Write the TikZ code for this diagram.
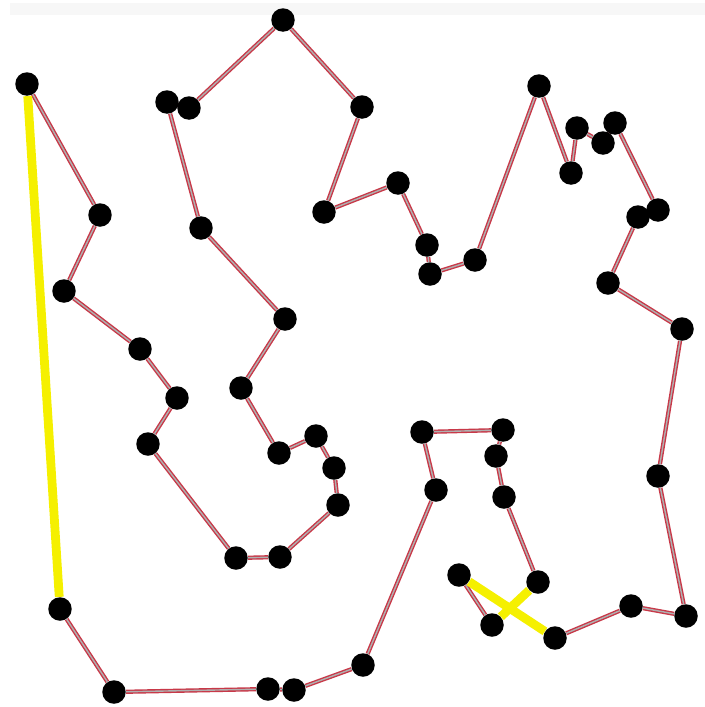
\documentclass[tikz,border=0pt]{standalone}
\usepackage{tikz}
\usetikzlibrary{backgrounds}
\definecolor{tourColor}{HTML}{C83848}
\definecolor{coreColor}{HTML}{B0B0B0}
\definecolor{swapColor}{HTML}{F5F000}
\begin{document}
\begin{tikzpicture}[
		x=0.02cm, y=-0.02cm,
		city/.style={circle, fill=black, inner sep=0pt, minimum size=0.47cm},
		edge/.style={draw=tourColor, line width=0.8pt, double=coreColor, double distance=0.8pt},
		swap/.style={draw=swapColor, line width=5pt}
		]
		\useasboundingbox (0,0) rectangle (705,707);
		\fill[black!3] (10,3) rectangle (705,15);

		\node[city] (c1) at (27,84) {};
		\node[city] (c2) at (100,215) {};
		\node[city] (c3) at (64,291) {};
		\node[city] (c4) at (140,349) {};
		\node[city] (c5) at (177,398) {};
		\node[city] (c6) at (148,444) {};
		\node[city] (c7) at (236,558) {};
		\node[city] (c8) at (280,557) {};
		\node[city] (c9) at (338,505) {};
		\node[city] (c10) at (334,468) {};
		\node[city] (c11) at (316,436) {};
		\node[city] (c12) at (279,453) {};
		\node[city] (c13) at (241,388) {};
		\node[city] (c14) at (285,319) {};
		\node[city] (c15) at (201,228) {};
		\node[city] (c16) at (167,102) {};
		\node[city] (c17) at (189,108) {};
		\node[city] (c18) at (283,20) {};
		\node[city] (c19) at (362,107) {};
		\node[city] (c20) at (324,212) {};
		\node[city] (c21) at (398,183) {};
		\node[city] (c22) at (427,245) {};
		\node[city] (c23) at (430,274) {};
		\node[city] (c24) at (475,260) {};
		\node[city] (c25) at (539,86) {};
		\node[city] (c26) at (571,173) {};
		\node[city] (c27) at (577,128) {};
		\node[city] (c28) at (603,143) {};
		\node[city] (c29) at (615,123) {};
		\node[city] (c30) at (658,210) {};
		\node[city] (c31) at (638,217) {};
		\node[city] (c32) at (608,283) {};
		\node[city] (c33) at (682,329) {};
		\node[city] (c34) at (658,476) {};
		\node[city] (c35) at (686,616) {};
		\node[city] (c36) at (631,606) {};
		\node[city] (c37) at (555,638) {};
		\node[city] (c38) at (459,575) {};
		\node[city] (c39) at (492,625) {};
		\node[city] (c40) at (538,582) {};
		\node[city] (c41) at (504,497) {};
		\node[city] (c42) at (496,456) {};
		\node[city] (c43) at (503,430) {};
		\node[city] (c44) at (422,432) {};
		\node[city] (c45) at (436,490) {};
		\node[city] (c46) at (363,665) {};
		\node[city] (c47) at (294,690) {};
		\node[city] (c48) at (268,689) {};
		\node[city] (c49) at (114,692) {};
		\node[city] (c50) at (60,609) {};

		\begin{scope}[on background layer]
			% tour
			\draw[edge] (c1) -- (c2) -- (c3) -- (c4) -- (c5) -- (c6) -- (c7) -- (c8) -- (c9) -- (c10)
				-- (c11) -- (c12) -- (c13) -- (c14) -- (c15) -- (c16) -- (c17) -- (c18) -- (c19) -- (c20)
				-- (c21) -- (c22) -- (c23) -- (c24) -- (c25) -- (c26) -- (c27) -- (c28) -- (c29) -- (c30)
				-- (c31) -- (c32) -- (c33) -- (c34) -- (c35) -- (c36) -- (c37);
			\draw[edge] (c38) -- (c39);
			\draw[edge] (c40) -- (c41) -- (c42) -- (c43) -- (c44) -- (c45) -- (c46) -- (c47) -- (c48)
				-- (c49) -- (c50);
			% highlighted edges
			\draw[swap] (c37) -- (c38);
			\draw[swap] (c39) -- (c40);
			\draw[swap] (c50) -- (c1);
		\end{scope}
	\end{tikzpicture}
\end{document}
